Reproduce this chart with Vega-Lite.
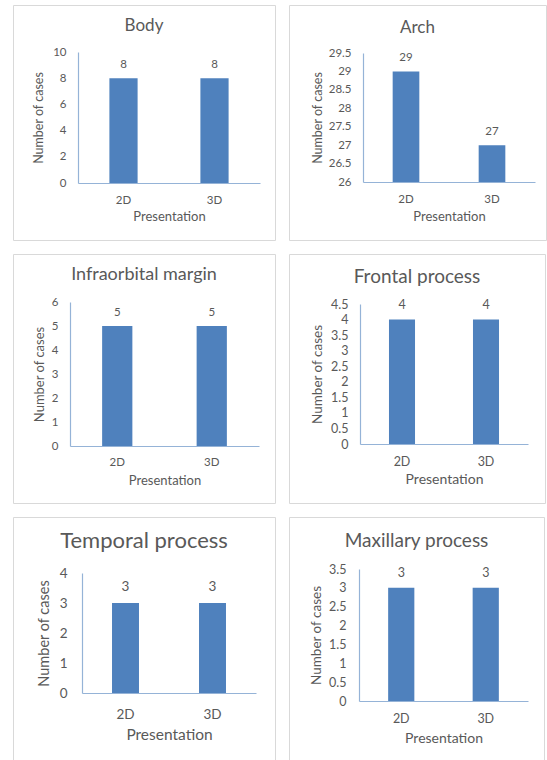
{
  "$schema": "https://vega.github.io/schema/vega-lite/v6.json",
  "padding": {"left": 12, "top": 4, "right": 0, "bottom": 0},
  "datasets": {
    "cases": [
      {"region": "Body", "presentation": "2D", "cases": 8},
      {"region": "Body", "presentation": "3D", "cases": 8},
      {"region": "Arch", "presentation": "2D", "cases": 29},
      {"region": "Arch", "presentation": "3D", "cases": 27},
      {"region": "Infraorbital margin", "presentation": "2D", "cases": 5},
      {"region": "Infraorbital margin", "presentation": "3D", "cases": 5},
      {"region": "Frontal process", "presentation": "2D", "cases": 4},
      {"region": "Frontal process", "presentation": "3D", "cases": 4},
      {"region": "Temporal process", "presentation": "2D", "cases": 3},
      {"region": "Temporal process", "presentation": "3D", "cases": 3},
      {"region": "Maxillary process", "presentation": "2D", "cases": 3},
      {"region": "Maxillary process", "presentation": "3D", "cases": 3}
    ]
  },
  "data": {"name": "cases"},
  "columns": 2,
  "bounds": "flush",
  "align": "each",
  "spacing": {"row": 14, "column": 14},
  "concat": [
    {
      "width": 262, "height": 235,
      "title": {"text": "Body", "fontSize": 17, "offset": -30},
      "transform": [{"filter": "datum.region === 'Body'"}],
      "encoding": {
        "x": {"field": "presentation", "type": "nominal",
              "scale": {"range": [65, 247], "paddingInner": 0.69, "paddingOuter": 0.345},
              "axis": {"offset": -57, "labelPadding": 11, "labelFontSize": 11.5, "title": "Presentation", "titleFontSize": 13, "titleY": 33.5, "titleBaseline": "middle"}},
        "y": {"field": "cases", "type": "quantitative",
              "scale": {"domain": [0, 10], "range": [178, 47], "nice": false, "zero": true},
              "axis": {"offset": -65, "values": [0, 2, 4, 6, 8, 10], "format": ".6~r", "labelPadding": 12, "labelFontSize": 11.5, "title": "Number of cases", "titleFontSize": 12.5, "titleX": -40, "titleBaseline": "middle"}}
      },
      "layer": [
        {"mark": {"type": "bar", "color": "#4F81BD"}, "encoding": {"y2": {"datum": 0}}},
        {"mark": {"type": "text", "baseline": "bottom", "dy": -8, "fontSize": 11.5}, "encoding": {"text": {"field": "cases", "type": "quantitative"}}}
      ]
    },
    {
      "width": 257, "height": 235,
      "title": {"text": "Arch", "fontSize": 17, "offset": -32},
      "transform": [{"filter": "datum.region === 'Arch'"}],
      "encoding": {
        "x": {"field": "presentation", "type": "nominal",
              "scale": {"range": [74, 246], "paddingInner": 0.69, "paddingOuter": 0.345},
              "axis": {"offset": -58, "labelPadding": 11, "labelFontSize": 11.5, "title": "Presentation", "titleFontSize": 13, "titleY": 34, "titleBaseline": "middle"}},
        "y": {"field": "cases", "type": "quantitative",
              "scale": {"domain": [26, 29.5], "range": [177, 48], "nice": false, "zero": false},
              "axis": {"offset": -74, "values": [26, 26.5, 27, 27.5, 28, 28.5, 29, 29.5], "format": ".6~r", "labelPadding": 12, "labelFontSize": 11.5, "title": "Number of cases", "titleFontSize": 12.5, "titleX": -46, "titleBaseline": "middle"}}
      },
      "layer": [
        {"mark": {"type": "bar", "color": "#4F81BD"}, "encoding": {"y2": {"datum": 26}}},
        {"mark": {"type": "text", "baseline": "bottom", "dy": -8, "fontSize": 11.5}, "encoding": {"text": {"field": "cases", "type": "quantitative"}}}
      ]
    },
    {
      "width": 262, "height": 249,
      "title": {"text": "Infraorbital margin", "fontSize": 18, "offset": -30},
      "transform": [{"filter": "datum.region === 'Infraorbital margin'"}],
      "encoding": {
        "x": {"field": "presentation", "type": "nominal",
              "scale": {"range": [57, 246], "paddingInner": 0.68, "paddingOuter": 0.34},
              "axis": {"offset": -57, "labelPadding": 10, "labelFontSize": 11.5, "title": "Presentation", "titleFontSize": 13, "titleY": 34, "titleBaseline": "middle"}},
        "y": {"field": "cases", "type": "quantitative",
              "scale": {"domain": [0, 6], "range": [192, 48], "nice": false, "zero": true},
              "axis": {"offset": -57, "values": [0, 1, 2, 3, 4, 5, 6], "format": ".6~r", "labelPadding": 12, "labelFontSize": 11.5, "title": "Number of cases", "titleFontSize": 13, "titleX": -31, "titleBaseline": "middle"}}
      },
      "layer": [
        {"mark": {"type": "bar", "color": "#4F81BD"}, "encoding": {"y2": {"datum": 0}}},
        {"mark": {"type": "text", "baseline": "bottom", "dy": -8, "fontSize": 11.5}, "encoding": {"text": {"field": "cases", "type": "quantitative"}}}
      ]
    },
    {
      "width": 256, "height": 249,
      "title": {"text": "Frontal process", "fontSize": 19, "offset": -33},
      "transform": [{"filter": "datum.region === 'Frontal process'"}],
      "encoding": {
        "x": {"field": "presentation", "type": "nominal",
              "scale": {"range": [71, 239], "paddingInner": 0.69, "paddingOuter": 0.345},
              "axis": {"offset": -59, "labelPadding": 11, "labelFontSize": 12.5, "title": "Presentation", "titleFontSize": 14, "titleY": 35, "titleBaseline": "middle"}},
        "y": {"field": "cases", "type": "quantitative",
              "scale": {"domain": [0, 4.5], "range": [190, 50], "nice": false, "zero": true},
              "axis": {"offset": -71, "values": [0, 0.5, 1, 1.5, 2, 2.5, 3, 3.5, 4, 4.5], "format": ".6~r", "labelPadding": 12, "labelFontSize": 12.5, "title": "Number of cases", "titleFontSize": 13.5, "titleX": -43, "titleBaseline": "middle"}}
      },
      "layer": [
        {"mark": {"type": "bar", "color": "#4F81BD"}, "encoding": {"y2": {"datum": 0}}},
        {"mark": {"type": "text", "baseline": "bottom", "dy": -8, "fontSize": 12.5}, "encoding": {"text": {"field": "cases", "type": "quantitative"}}}
      ]
    },
    {
      "width": 262, "height": 250,
      "title": {"text": "Temporal process", "fontSize": 22, "offset": -36},
      "transform": [{"filter": "datum.region === 'Temporal process'"}],
      "encoding": {
        "x": {"field": "presentation", "type": "nominal",
              "scale": {"range": [69, 243], "paddingInner": 0.69, "paddingOuter": 0.345},
              "axis": {"offset": -74, "labelPadding": 14, "labelFontSize": 13.5, "title": "Presentation", "titleFontSize": 15.5, "titleY": 41, "titleBaseline": "middle"}},
        "y": {"field": "cases", "type": "quantitative",
              "scale": {"domain": [0, 4], "range": [176, 56], "nice": false, "zero": true},
              "axis": {"offset": -69, "values": [0, 1, 2, 3, 4], "format": ".6~r", "labelPadding": 15, "labelFontSize": 13.5, "title": "Number of cases", "titleFontSize": 14.5, "titleX": -38, "titleBaseline": "middle"}}
      },
      "layer": [
        {"mark": {"type": "bar", "color": "#4F81BD"}, "encoding": {"y2": {"datum": 0}}},
        {"mark": {"type": "text", "baseline": "bottom", "dy": -9, "fontSize": 13.5}, "encoding": {"text": {"field": "cases", "type": "quantitative"}}}
      ]
    },
    {
      "width": 255, "height": 250,
      "title": {"text": "Maxillary process", "fontSize": 19, "offset": -34},
      "transform": [{"filter": "datum.region === 'Maxillary process'"}],
      "encoding": {
        "x": {"field": "presentation", "type": "nominal",
              "scale": {"range": [70, 239], "paddingInner": 0.69, "paddingOuter": 0.345},
              "axis": {"offset": -66, "labelPadding": 11, "labelFontSize": 12.5, "title": "Presentation", "titleFontSize": 14, "titleY": 37, "titleBaseline": "middle"}},
        "y": {"field": "cases", "type": "quantitative",
              "scale": {"domain": [0, 3.5], "range": [184, 52], "nice": false, "zero": true},
              "axis": {"offset": -70, "values": [0, 0.5, 1, 1.5, 2, 2.5, 3, 3.5], "format": ".6~r", "labelPadding": 13, "labelFontSize": 12.5, "title": "Number of cases", "titleFontSize": 13.5, "titleX": -43, "titleBaseline": "middle"}}
      },
      "layer": [
        {"mark": {"type": "bar", "color": "#4F81BD"}, "encoding": {"y2": {"datum": 0}}},
        {"mark": {"type": "text", "baseline": "bottom", "dy": -8, "fontSize": 12.5}, "encoding": {"text": {"field": "cases", "type": "quantitative"}}}
      ]
    }
  ],
  "config": {
    "font": "Lato",
    "view": {"stroke": "#D9D9D9", "strokeWidth": 1},
    "axis": {
      "grid": false, "ticks": false,
      "domainColor": "#95B3D7", "domainWidth": 1.2,
      "labelColor": "#595959", "titleColor": "#595959",
      "titleFontWeight": "normal", "labelAngle": 0
    },
    "title": {"color": "#595959", "fontWeight": "normal", "anchor": "middle", "frame": "group"},
    "text": {"color": "#595959"}
  }
}
